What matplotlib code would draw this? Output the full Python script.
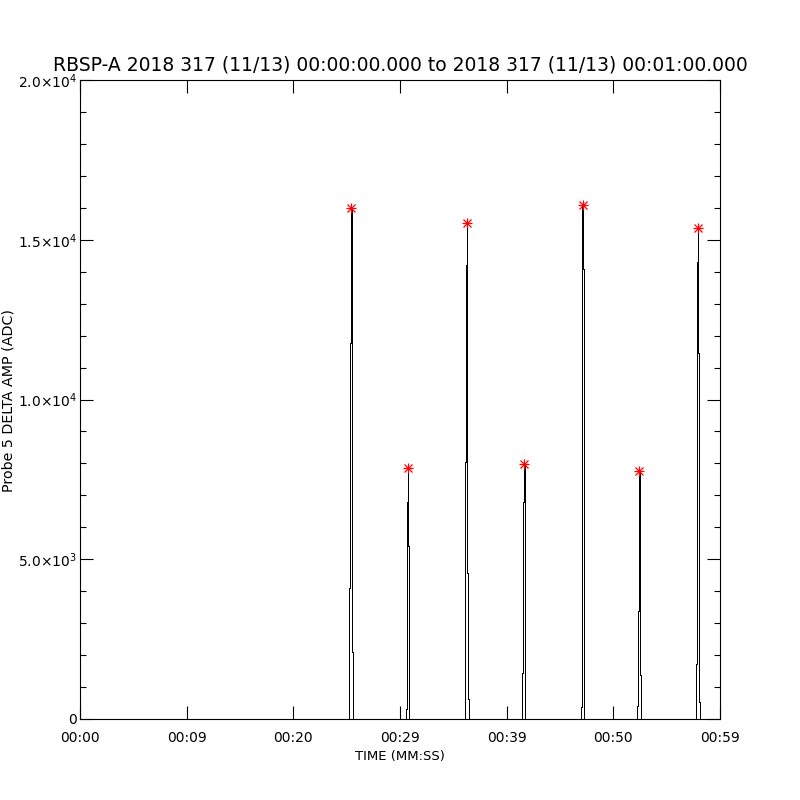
import matplotlib
matplotlib.use("Agg")
import matplotlib.pyplot as plt
from matplotlib.ticker import MultipleLocator, FixedLocator
import numpy as np

# ---- data (seconds after 00:00:00, ADC counts) ----
spike1_t = [25.16, 25.30, 25.37, 25.43, 25.50, 25.59, 25.68]
spike1_v = [0, 4100, 11780, 16000, 8250, 2100, 0]
spike2_t = [30.54, 30.635, 30.715, 30.765, 30.825, 30.92]
spike2_v = [0, 320, 6800, 7850, 5400, 0]
spike3_t = [36.07, 36.17, 36.25, 36.295, 36.36, 36.455, 36.55]
spike3_v = [0, 8040, 14210, 15525, 4570, 635, 0]
spike4_t = [41.42, 41.515, 41.595, 41.645, 41.705, 41.80]
spike4_v = [0, 1450, 6790, 7970, 3230, 0]
spike5_t = [46.89, 46.98, 47.055, 47.125, 47.19, 47.25, 47.31]
spike5_v = [0, 370, 12010, 16090, 14100, 1980, 0]
spike6_t = [52.20, 52.295, 52.375, 52.43, 52.49, 52.575, 52.67]
spike6_v = [0, 400, 3390, 7760, 5270, 1380, 0]
spike7_t = [57.73, 57.825, 57.92, 57.975, 57.99, 58.075, 58.20]
spike7_v = [0, 1730, 14300, 15370, 11460, 540, 0]

spikes_t = [spike1_t, spike2_t, spike3_t, spike4_t, spike5_t, spike6_t, spike7_t]
spikes_v = [spike1_v, spike2_v, spike3_v, spike4_v, spike5_v, spike6_v, spike7_v]

x_tick_values = [0, 10, 20, 30, 40, 50, 60]
x_tick_labels = ["00:00", "00:09", "00:20", "00:29", "00:39", "00:50", "00:59"]
y_tick_values = [0, 5000, 10000, 15000, 20000]
y_tick_labels = ["0", r"5.0$\times$10$^{3}$", r"1.0$\times$10$^{4}$",
                 r"1.5$\times$10$^{4}$", r"2.0$\times$10$^{4}$"]

title = "RBSP-A 2018 317 (11/13) 00:00:00.000 to 2018 317 (11/13) 00:01:00.000"
xlabel = "TIME (MM:SS)"
ylabel = "Probe 5 DELTA AMP (ADC)"

plt.rcParams['font.family'] = ['DejaVu Sans']
plt.rcParams['mathtext.fontset'] = 'dejavusans'
plt.rcParams['mathtext.default'] = 'regular'

fig = plt.figure(figsize=(8, 8), dpi=100)
fig.patch.set_facecolor('white')
ax = fig.add_axes([0.1, 0.10125, 0.8, 0.79875])

t_all = np.concatenate(spikes_t)
v_all = np.concatenate(spikes_v)
ax.plot(t_all, v_all, color='black', lw=0.72, drawstyle='steps-mid',
        antialiased=False, zorder=2)

peak_t = [t[int(np.argmax(v))] for t, v in zip(spikes_t, spikes_v)]
peak_v = [max(v) for v in spikes_v]
ax.plot(peak_t, peak_v, ls='none', marker='+', ms=7.5, mew=0.9,
        color='#ff0000', zorder=3)
ax.plot(peak_t, peak_v, ls='none', marker='x', ms=5.5, mew=0.9,
        color='#ff0000', zorder=3)

ax.set_xlim(0, 60)
ax.set_ylim(0, 20000)

ax.xaxis.set_major_locator(FixedLocator(x_tick_values))
ax.set_xticklabels(x_tick_labels)
ax.yaxis.set_major_locator(FixedLocator(y_tick_values))
ax.set_yticklabels(y_tick_labels)
ax.yaxis.set_minor_locator(MultipleLocator(1000))

ax.tick_params(axis='x', which='major', direction='in', top=True, bottom=True,
               length=9.4, width=0.8, labelsize=10, pad=9)
ax.tick_params(axis='y', which='major', direction='in', left=True, right=True,
               length=9.4, width=0.8, labelsize=10, pad=2)
ax.tick_params(axis='y', which='minor', direction='in', left=True, right=True,
               length=4.5, width=0.8)
for s in ax.spines.values():
    s.set_linewidth(0.8)

ax.set_title(title, fontsize=13.5, pad=7)
ax.set_xlabel(xlabel, fontsize=9.5, labelpad=3)
fig.text(0.011, 0.5, ylabel, rotation=90, ha='center', va='center',
         fontsize=10.3)

fig.savefig("out.png", dpi=100, facecolor='white')
